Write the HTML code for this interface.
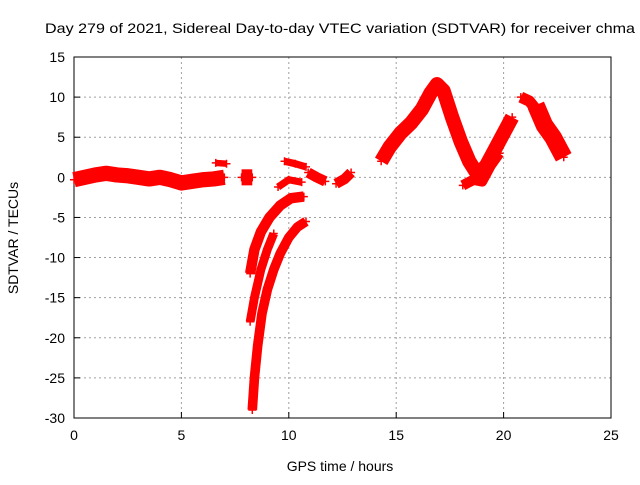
<!DOCTYPE html>
<html><head><meta charset="utf-8"><style>
body{margin:0;background:#fff;font-family:"Liberation Sans",sans-serif}
svg text{font-family:"Liberation Sans",sans-serif;font-size:14px;fill:#000}
</style></head><body>
<svg id="chart" width="640" height="480">
<g id="grid"></g>
<g id="axes"></g>
<g id="series"></g>
<text x="45" y="33" textLength="590" lengthAdjust="spacingAndGlyphs">Day 279 of 2021, Sidereal Day-to-day VTEC variation (SDTVAR) for receiver chma</text>
<text x="340" y="471" text-anchor="middle">GPS time / hours</text>
<text x="18" y="238" text-anchor="middle" transform="rotate(-90 18 238)">SDTVAR / TECUs</text>
</svg>
<script>
const xTicks=[0,5,10,15,20,25];
const yTicks=[15,10,5,0,-5,-10,-15,-20,-25,-30];
// segments of [hour, TECU] samples; band thickness in TECU
const segQuiet1=[[0,-0.3],[0.5,0],[1,0.3],[1.5,0.5],[2,0.3],[2.5,0.2],[3,0],[3.5,-0.2],[4,0],[4.5,-0.3],[5,-0.7],[5.5,-0.5],[6,-0.3],[6.5,-0.2],[7,0]];
const segQuiet2=[[6.6,1.8],[7.1,1.7]];
const segQuiet3=[[7.8,0],[8.3,0]];
const segDrop1=[[8.3,-29],[8.4,-25],[8.55,-21],[8.75,-17],[9,-14],[9.3,-11.5],[9.6,-9.5],[10,-7.5],[10.4,-6.2],[10.8,-5.5]];
const segDrop2=[[8.2,-18],[8.4,-15],[8.7,-11.5],[9,-9],[9.3,-7]];
const segDrop3=[[8.2,-12],[8.4,-9],[8.7,-6.8],[9.1,-5],[9.6,-3.5],[10.1,-2.6],[10.7,-2.4]];
const segBlob1=[[9.5,-1.2],[10,-0.3],[10.6,-0.6]];
const segBlob2=[[9.8,2],[10.3,1.7],[10.8,1.3]];
const segBlob3=[[10.9,0.6],[11.3,0],[11.7,-0.5]];
const segBlob4=[[12.2,-0.8],[12.6,-0.2],[12.9,0.6]];
const segStorm1=[[14.3,2],[14.7,3.8],[15.2,5.5],[15.7,6.8],[16.2,8.5],[16.6,10.5],[16.9,11.6],[17.2,10.8],[17.6,7.5],[18,4.5],[18.4,2],[18.8,0.3],[19.2,1.5],[19.6,3.5],[20,5.5],[20.4,7.5]];
const segStorm2=[[18.1,-1],[18.6,-0.3],[19,-0.5],[19.4,1.5],[19.8,3]];
const segStorm3=[[20.8,10],[21.2,9.5],[21.5,8.5]];
const segStorm4=[[21.5,9],[21.9,6.5],[22.3,5],[22.8,2.5]];
const segments=[segQuiet1,segQuiet2,segQuiet3,segDrop1,segDrop2,segDrop3,segBlob1,segBlob2,segBlob3,segBlob4,segStorm1,segStorm2,segStorm3,segStorm4];
const widths=[1.9,0.8,2,1.2,1.1,1.3,0.9,0.9,1.3,1.3,1.8,1.3,1.4,2.2];
const X0=74,X1=611,Y0=57,Y1=418;
const sx=v=>X0+(v-0)/(25-0)*(X1-X0);
const sy=v=>Y0+(15-v)/(15-(-30))*(Y1-Y0);
const NS='http://www.w3.org/2000/svg';
function mk(t,a,p){const e=document.createElementNS(NS,t);for(const k in a)e.setAttribute(k,a[k]);p.appendChild(e);return e;}
const grid=document.getElementById('grid'),axes=document.getElementById('axes'),ser=document.getElementById('series');
xTicks.forEach(t=>{
 if(t>0&&t<25){const l=mk('line',{x1:sx(t),x2:sx(t),y1:Y0,y2:Y1,stroke:'#a0a0a0','stroke-dasharray':'2,3'},grid);
 
 }
 const tk=mk('line',{x1:sx(t),x2:sx(t),y1:Y1,y2:Y1-6,stroke:'#000'},axes);
 
 
 const tx=mk('text',{x:sx(t),y:Y1+22,'text-anchor':'middle'},axes);tx.textContent=t;
 
 
});
yTicks.forEach(t=>{
 if(t<15&&t>-30){const l=mk('line',{x1:X0,x2:X1,y1:sy(t),y2:sy(t),stroke:'#a0a0a0','stroke-dasharray':'2,3'},grid);
 
 }
 const tk=mk('line',{x1:X0,x2:X0+6,y1:sy(t),y2:sy(t),stroke:'#000'},axes);
 
 
 const tx=mk('text',{x:X0-9,y:sy(t)+5,'text-anchor':'end'},axes);tx.textContent=t;
 
 
});
const fr=mk('rect',{x:X0,y:Y0,width:X1-X0,height:Y1-Y0,fill:'none',stroke:'#000'},axes);


segments.forEach((s,i)=>{
 const pl=mk('polyline',{points:s.map(p=>sx(p[0])+','+sy(p[1])).join(' '),fill:'none',stroke:'#ff0000','stroke-width':widths[i]*(Y1-Y0)/45,'stroke-linejoin':'round','stroke-linecap':'butt'},ser);
 
 
 s.forEach(p=>{
  const m=mk('path',{d:`M${sx(p[0])-4},${sy(p[1])}h8M${sx(p[0])},${sy(p[1])-4}v8`,stroke:'#ff0000','stroke-width':1.5},ser);
  
  
 });
});
</script>
</body></html>
